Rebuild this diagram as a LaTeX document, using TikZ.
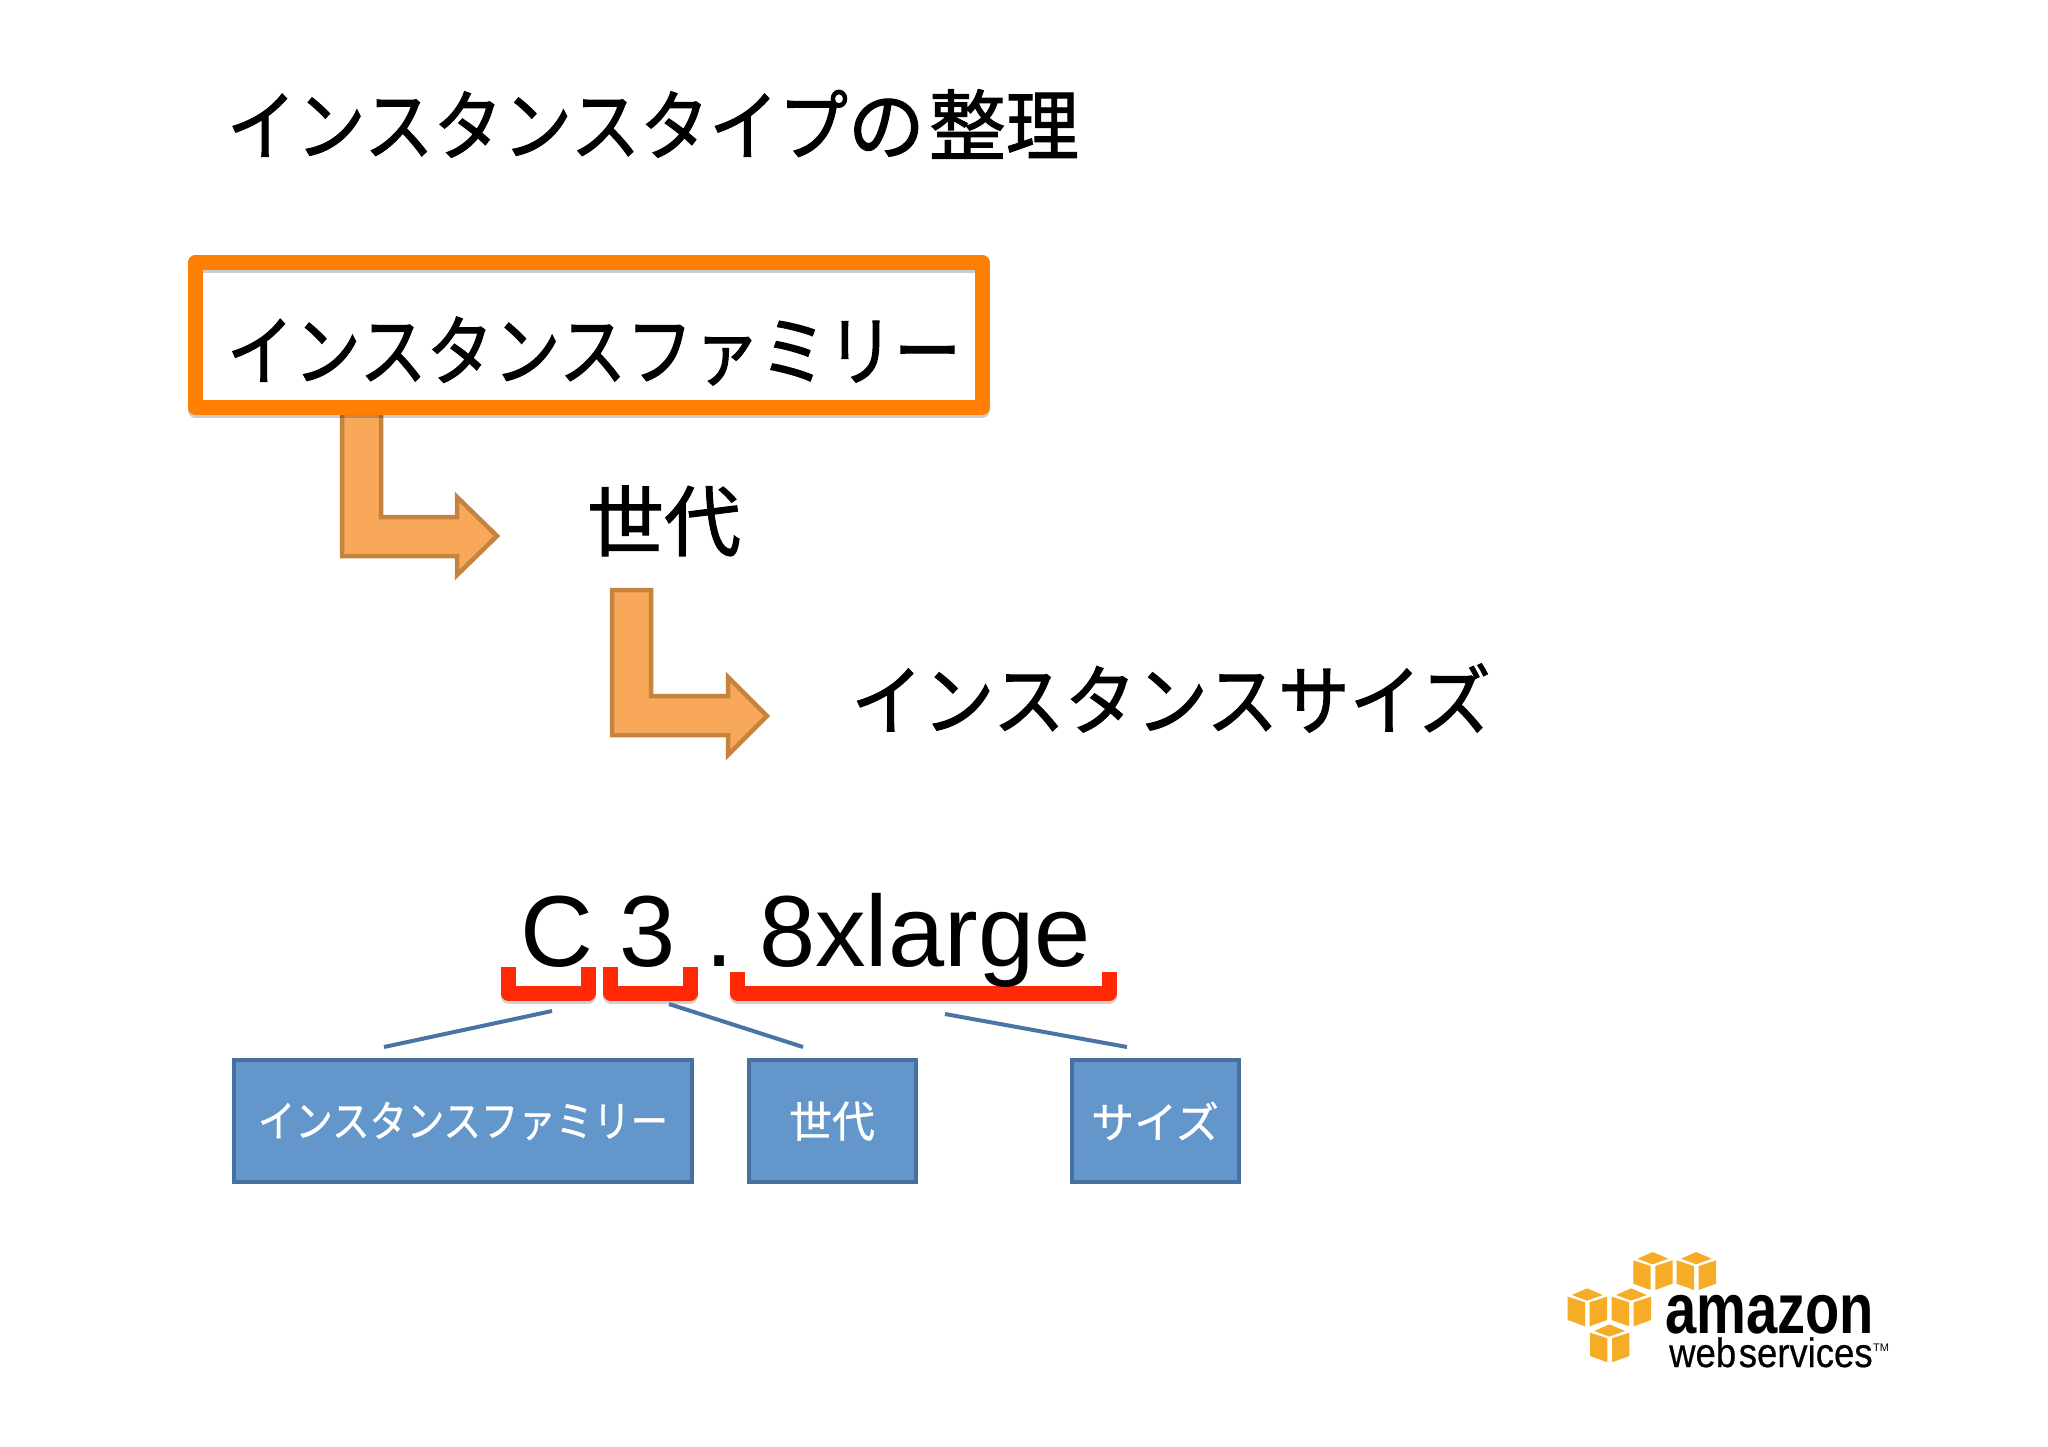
\documentclass[tikz,border=0pt]{standalone}
\usepackage{fontspec}
\usepackage{graphicx}
\setmainfont{Liberation Sans}
\newfontfamily\cjk[FakeBold=1.4]{Noto Sans CJK JP}
\newfontfamily\cjkw[FakeBold=0.8]{Noto Sans CJK JP}
\newfontfamily\logofont[FakeBold=0.5]{Liberation Sans}
\newcommand{\sx}[2]{\scalebox{#1}[1]{#2}}
\definecolor{framecol}{HTML}{FF7F05}
\definecolor{arrowfill}{HTML}{F9A85A}
\definecolor{arrowline}{HTML}{C4843F}
\definecolor{redcol}{HTML}{FF2A05}
\definecolor{boxfill}{HTML}{6397CB}
\definecolor{boxline}{HTML}{47709F}
\definecolor{linkcol}{HTML}{4A74A3}
\definecolor{cubecol}{HTML}{F6AC27}
\newcommand{\awscube}[2]{%
  \begin{scope}[shift={(#1,#2)},x=0.3333pt,y=-0.3333pt]
    \fill[cubecol] (13,20)--(58,0)--(105,20)--(58,37)--cycle;
    \fill[cubecol] (0,25)--(52,42)--(52,114)--(0,95)--cycle;
    \fill[cubecol] (66,42)--(118,25)--(118,95)--(66,114)--cycle;
  \end{scope}}
\tikzset{
  x=1pt,y=-1pt,
  bigjp/.style={inner sep=0pt,anchor=center,font=\cjk\fontsize{77}{90}\selectfont,text=black},
  bigen/.style={inner sep=0pt,anchor=base west,font=\fontsize{101}{110}\selectfont,text=black},
  bluebox/.style={draw=boxline,fill=boxfill,line width=4pt,inner sep=0pt,font=\cjkw\fontsize{43}{50}\selectfont,text=white},
  elbow/.style={draw=arrowline,fill=arrowfill,line width=4.5pt,line join=miter},
  brace/.style={draw=redcol,line width=15pt,line join=round,line cap=butt},
  braceshadow/.style={draw=black,opacity=0.18,line width=15pt,line join=round,line cap=butt},
  link/.style={draw=linkcol,line width=4pt}
}
\begin{document}
\begin{tikzpicture}
\useasboundingbox[fill=white] (0,0) rectangle (2048,1447);
% title
\node[bigjp] (title) at (653,124) {\sx{0.90}{インスタンスタイプ}の\hspace{4pt}整\sx{0.95}{理}};
% elbow arrows
\draw[elbow] (342,410)--(381,410)--(381,517)--(457,517)--(457,497)--(497,536)--(457,575)--(457,556)--(342,556)--cycle;
\draw[elbow] (612,590)--(651,590)--(651,696)--(728,696)--(728,677)--(767,716)--(728,755)--(728,735)--(612,735)--cycle;
% frame
\draw[draw=black,opacity=0.2,line width=15pt,line join=round] (195,265.5) rectangle (982,410);
\draw[draw=framecol,line width=15pt,line join=round] (195,262.5) rectangle (982,407);
\node[bigjp] (family) at (594,351) {\sx{0.87}{インスタンスファミリー}};
\node[bigjp] (gen) at (664,521) {世代};
\node[bigjp] (size) at (1171,698) {\sx{0.93}{インスタンスサイズ}};
% red brackets
\foreach \p in {0,1}{
  \ifnum\p=0\tikzset{cur/.style={braceshadow,shift={(0,3)}}}\else\tikzset{cur/.style={brace}}\fi
  \draw[cur] (508,967)--(508,993)--(588.5,993)--(588.5,967);
  \draw[cur] (610.5,967)--(610.5,993)--(690.5,993)--(690.5,967);
  \draw[cur] (737,972)--(737,993)--(1109.5,993)--(1109.5,972);
}
% instance name
\node[bigen] (nc) at (520,966) {C};
\node[bigen] (n3) at (619.5,966) {3};
\node[bigen] (nd) at (705,966) {.};
\node[bigen] (nl) at (759,966) {8xlarge};
% boxes
\node[bluebox,minimum width=458pt,minimum height=122pt] (b1) at (463,1121) {\sx{0.87}{インスタンスファミリー}};
\node[bluebox,minimum width=167pt,minimum height=122pt] (b2) at (832,1121) {世代};
\node[bluebox,minimum width=167pt,minimum height=122pt] (b3) at (1155,1121) {サイズ};
% connector lines
\coordinate (l1a) at (552,1011);
\coordinate (l1b) at (384,1047);
\coordinate (l2a) at (669,1004);
\coordinate (l2b) at (803,1047);
\coordinate (l3a) at (945,1014);
\coordinate (l3b) at (1127,1047);
\draw[link] (l1a)--(l1b);
\draw[link] (l2a)--(l2b);
\draw[link] (l3a)--(l3b);
% AWS logo
\awscube{1633.3}{1252}
\awscube{1676.7}{1252}
\awscube{1567.7}{1288.3}
\awscube{1611.7}{1288.3}
\awscube{1590}{1324.3}
\node[inner sep=0pt,anchor=base west,font=\bfseries\fontsize{71}{80}\selectfont] (amazon) at (1665,1333) {\sx{0.79}{amazon}};
\node[inner sep=0pt,anchor=base west,font=\logofont\fontsize{41}{46}\selectfont] (aws) at (1669,1367) {\sx{0.89}{web\hspace{3pt}services}};
\node[inner sep=0pt,anchor=base west,font=\fontsize{11}{13}\selectfont] (tm) at (1873,1351) {TM};
\end{tikzpicture}
\end{document}
